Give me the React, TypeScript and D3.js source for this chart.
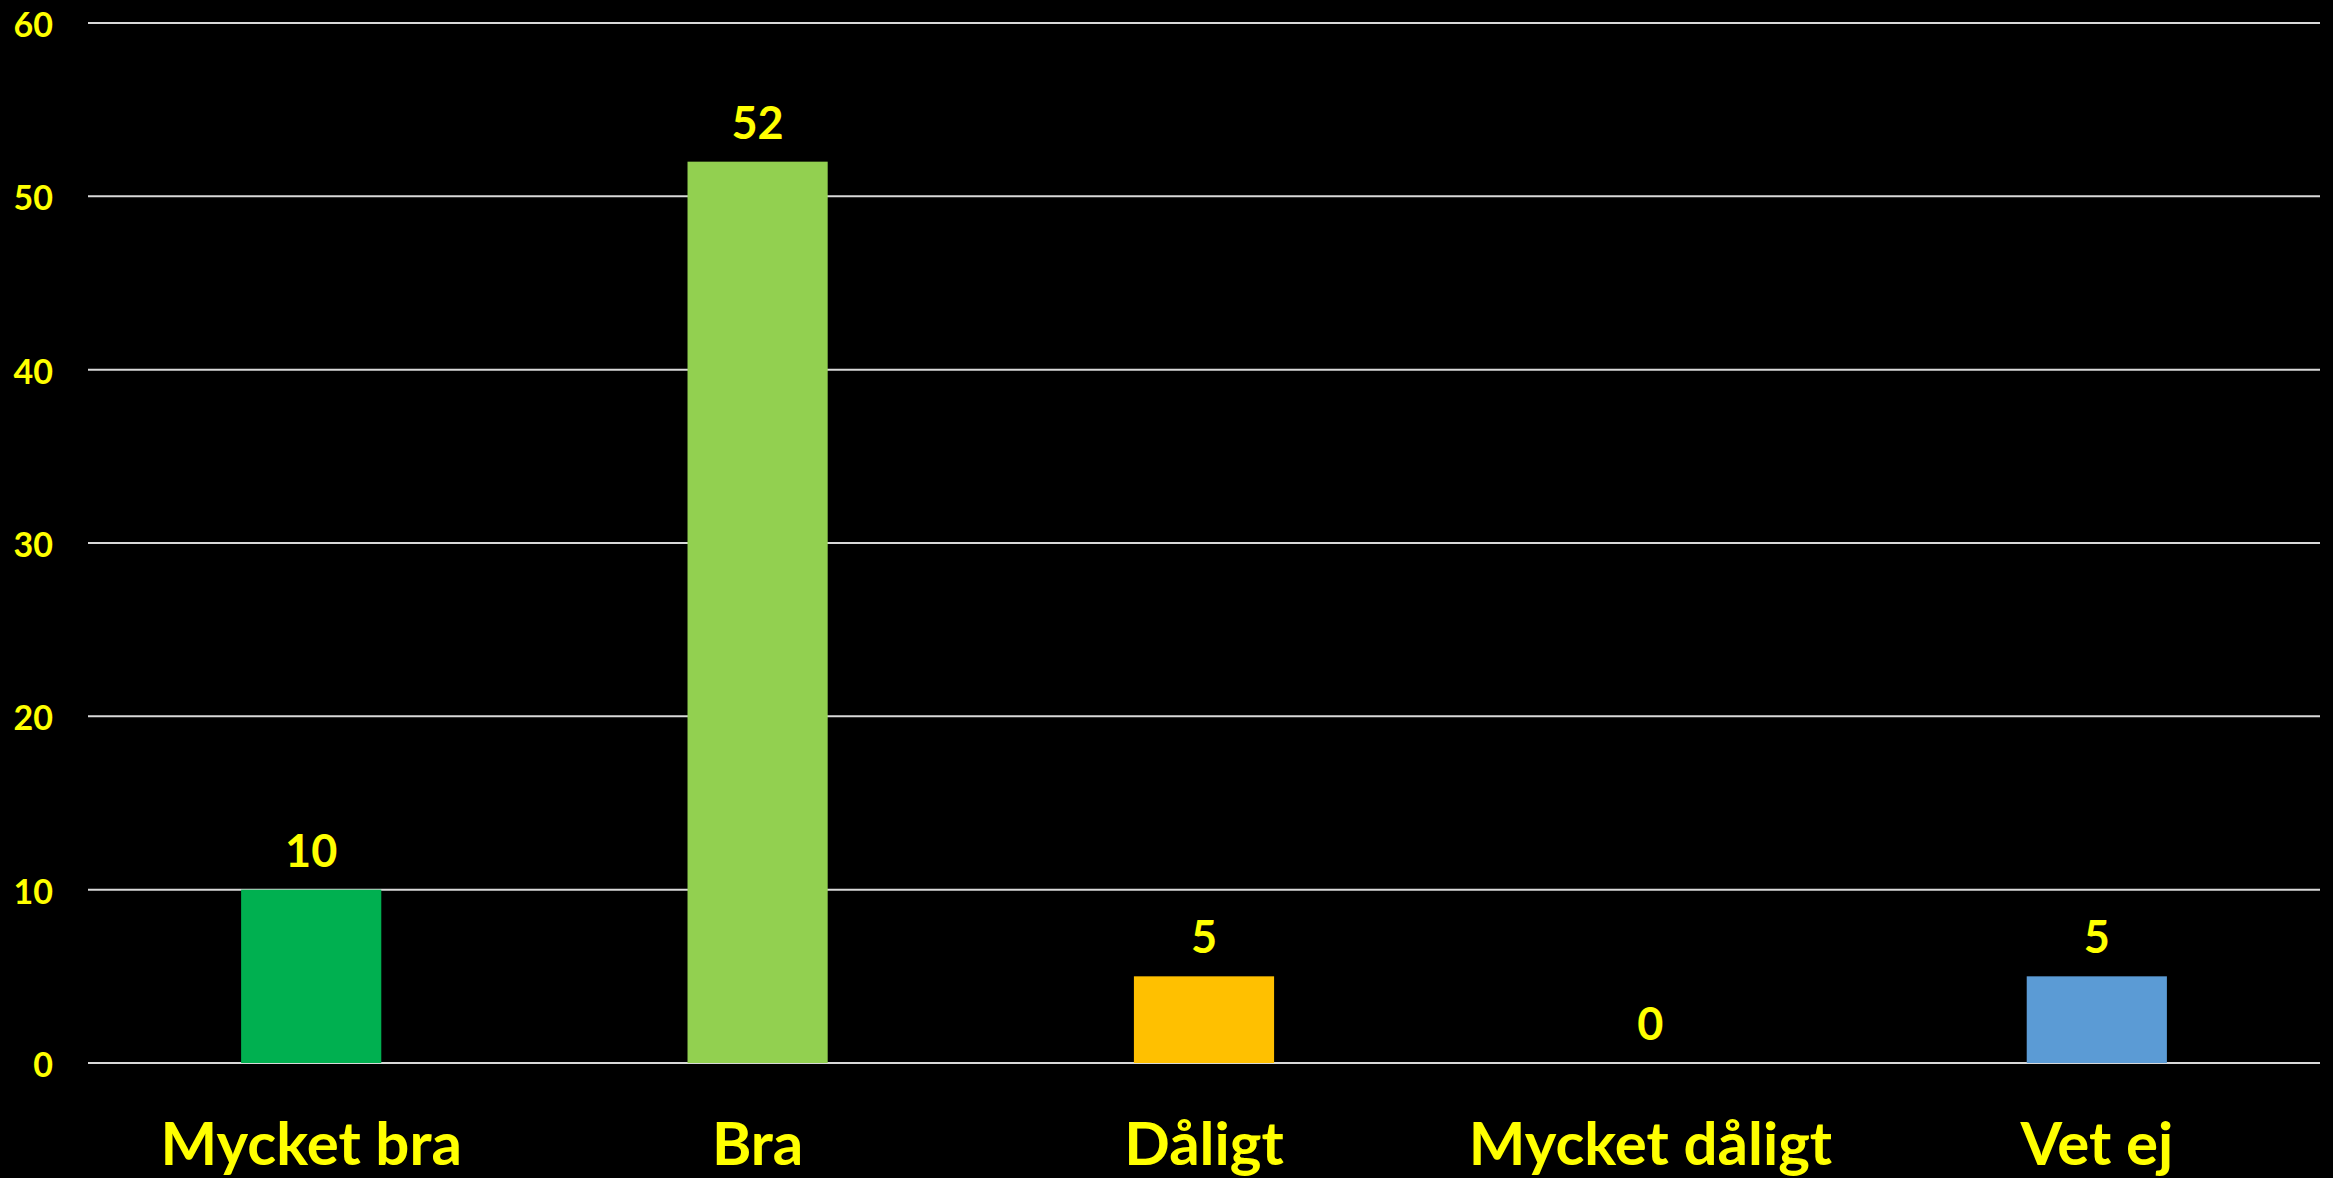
import { useEffect, useRef } from "react"
import { select, scaleBand, scaleLinear } from "d3"

const categories = ["Mycket bra", "Bra", "Dåligt", "Mycket dåligt", "Vet ej"]
const values = [10, 52, 5, 0, 5]
const barColors = ["#00B050", "#92D050", "#FFC000", "#FFC000", "#5B9BD5"]
const yTicks = [0, 10, 20, 30, 40, 50, 60]

const width = 2333
const height = 1178
const font = "Lato, 'Open Sans', sans-serif"

export default function App() {
    const svgRef = useRef<SVGSVGElement>(null)

    useEffect(() => {
        const svg = select(svgRef.current)
        svg.selectAll("*").remove()

        const margin = { top: 23, right: 13, bottom: 115, left: 88 }

        const x = scaleBand(categories, [margin.left, width - margin.right])
            .paddingInner(0.686)
            .paddingOuter(0.343)

        const y = scaleLinear([0, 60], [height - margin.bottom, margin.top])

        // grid
        svg.append("g")
            .selectAll("line")
            .data(yTicks)
            .join("line")
            .attr("x1", margin.left)
            .attr("x2", width - margin.right)
            .attr("y1", d => y(d))
            .attr("y2", d => y(d))
            .attr("stroke", "#D9D9D9")
            .attr("stroke-width", 2)

        // y labels
        svg.append("g")
            .selectAll("text")
            .data(yTicks)
            .join("text")
            .attr("x", 53)
            .attr("y", d => y(d) + 2)
            .attr("dy", "0.35em")
            .attr("text-anchor", "end")
            .attr("font-family", font)
            .attr("font-weight", "bold")
            .attr("font-size", 34)
            .attr("fill", "#FFFF00")
            .text(d => d)

        // bars
        svg.append("g")
            .selectAll("rect")
            .data(values)
            .join("rect")
            .attr("x", (_, i) => x(categories[i])!)
            .attr("width", x.bandwidth())
            .attr("y", d => y(d))
            .attr("height", d => y(0) - y(d))
            .attr("fill", (_, i) => barColors[i])

        // value labels
        svg.append("g")
            .selectAll("text")
            .data(values)
            .join("text")
            .attr("x", (_, i) => x(categories[i])! + x.bandwidth() / 2)
            .attr("y", d => y(d) - 23)
            .attr("text-anchor", "middle")
            .attr("font-family", font)
            .attr("font-weight", "bold")
            .attr("font-size", 45)
            .attr("fill", "#FFFF00")
            .text(d => d)

        // category labels
        svg.append("g")
            .selectAll("text")
            .data(categories)
            .join("text")
            .attr("x", d => x(d)! + x.bandwidth() / 2)
            .attr("y", 1165)
            .attr("text-anchor", "middle")
            .attr("font-family", font)
            .attr("font-weight", "bold")
            .attr("font-size", 60)
            .attr("fill", "#FFFF00")
            .text(d => d)
    }, [])

    return (
        <div style={{ position: "fixed", left: 0, top: 0 }}>
            <svg ref={svgRef} width={width} height={height} style={{ display: "block", background: "#000" }} />
        </div>
    )
}
